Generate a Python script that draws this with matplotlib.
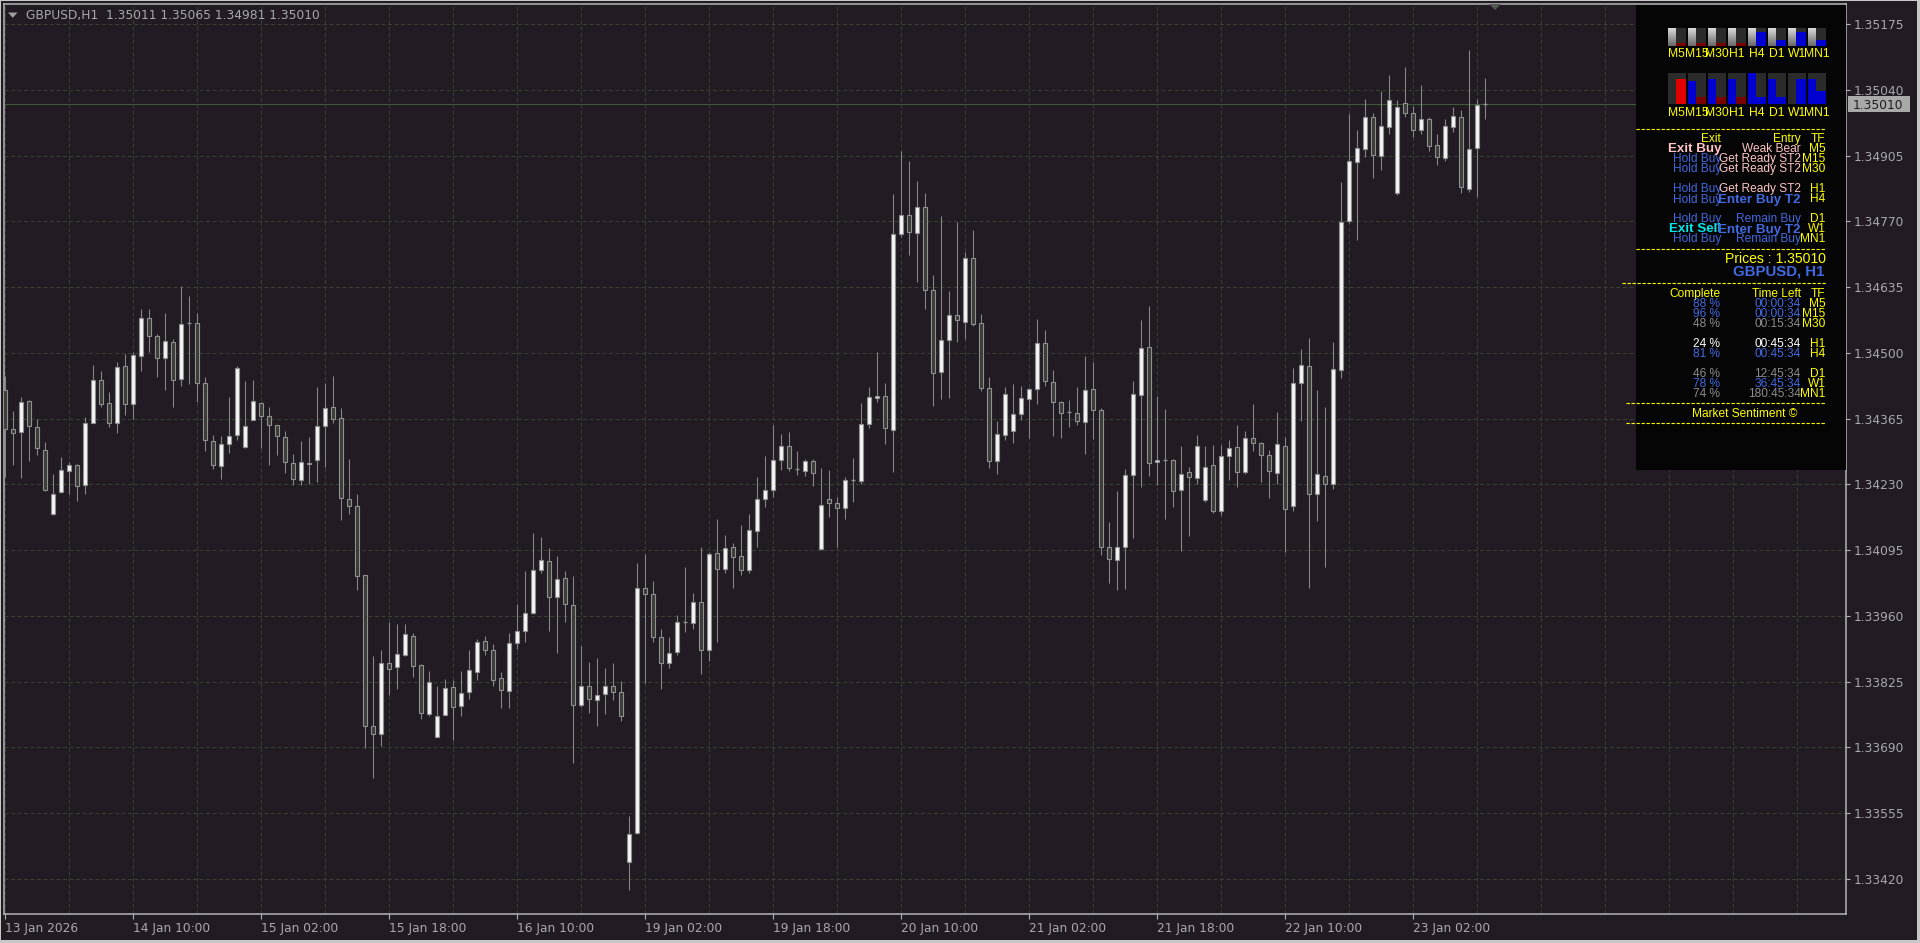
import matplotlib
matplotlib.use("Agg")
import matplotlib.pyplot as plt
from matplotlib.patches import Rectangle, Polygon
import numpy as np

# ---- data -------------------------------------------------------------
symbol = "GBPUSD"
period = "H1"

opens = [
    1.34424, 1.34343, 1.34337, 1.34402, 1.34347, 1.34300, 1.34170, 1.34215, 1.34257, 1.34270,
    1.34229, 1.34357, 1.34445, 1.34398, 1.34357, 1.34473, 1.34396, 1.34494, 1.34571, 1.34534,
    1.34489, 1.34522, 1.34446, 1.34561, 1.34562, 1.34438, 1.34320, 1.34268, 1.34312, 1.34331,
    1.34306, 1.34363, 1.34398, 1.34371, 1.34351, 1.34328, 1.34273, 1.34239, 1.34271, 1.34280,
    1.34349, 1.34389, 1.34367, 1.34200, 1.34185, 1.34044, 1.33735, 1.33718, 1.33863, 1.33855,
    1.33879, 1.33918, 1.33860, 1.33758, 1.33712, 1.33757, 1.33814, 1.33775, 1.33804, 1.33844,
    1.33909, 1.33891, 1.33832, 1.33806, 1.33904, 1.33929, 1.33965, 1.34055, 1.34073, 1.33998,
    1.34037, 1.33982, 1.33778, 1.33817, 1.33788, 1.33799, 1.33817, 1.33803, 1.33455, 1.33514,
    1.34018, 1.34004, 1.33917, 1.33864, 1.33886, 1.33947, 1.33945, 1.33988, 1.33891, 1.34089,
    1.34056, 1.34101, 1.34082, 1.34054, 1.34135, 1.34200, 1.34219, 1.34280, 1.34309, 1.34262,
    1.34258, 1.34277, 1.34098, 1.34201, 1.34192, 1.34181, 1.34238, 1.34237, 1.34354, 1.34407,
    1.34411, 1.34342, 1.34743, 1.34782, 1.34747, 1.34800, 1.34630, 1.34461, 1.34527, 1.34577,
    1.34564, 1.34695, 1.34561, 1.34428, 1.34278, 1.34332, 1.34340, 1.34375, 1.34406, 1.34426,
    1.34520, 1.34441, 1.34400, 1.34378, 1.34377, 1.34359, 1.34426, 1.34383, 1.34101, 1.34074,
    1.34101, 1.34250, 1.34414, 1.34512, 1.34275, 1.34280, 1.34281, 1.34218, 1.34255, 1.34244,
    1.34197, 1.34269, 1.34176, 1.34289, 1.34306, 1.34256, 1.34326, 1.34315, 1.34291, 1.34254,
    1.34309, 1.34185, 1.34439, 1.34474, 1.34210, 1.34248, 1.34231, 1.34465, 1.34770, 1.34892,
    1.34919, 1.34985, 1.34905, 1.34964, 1.34828, 1.35013, 1.34992, 1.34958, 1.34981, 1.34927,
    1.34899, 1.34964, 1.34985, 1.34837, 1.34921, 1.35011,
]
highs = [
    1.34453, 1.34381, 1.34409, 1.34404, 1.34365, 1.34318, 1.34252, 1.34286, 1.34275, 1.34272,
    1.34368, 1.34476, 1.34463, 1.34419, 1.34482, 1.34497, 1.34501, 1.34589, 1.34589, 1.34538,
    1.34582, 1.34528, 1.34638, 1.34616, 1.34582, 1.34451, 1.34331, 1.34329, 1.34409, 1.34472,
    1.34443, 1.34445, 1.34400, 1.34389, 1.34352, 1.34340, 1.34292, 1.34319, 1.34328, 1.34429,
    1.34438, 1.34453, 1.34387, 1.34283, 1.34211, 1.34045, 1.33878, 1.33890, 1.33947, 1.33943,
    1.33944, 1.33924, 1.33861, 1.33846, 1.33816, 1.33831, 1.33829, 1.33846, 1.33890, 1.33912,
    1.33919, 1.33902, 1.33844, 1.33925, 1.33984, 1.34052, 1.34131, 1.34121, 1.34099, 1.34082,
    1.34052, 1.34041, 1.33899, 1.33866, 1.33873, 1.33853, 1.33864, 1.33827, 1.33550, 1.34068,
    1.34087, 1.34031, 1.33933, 1.33917, 1.33962, 1.34060, 1.34008, 1.34101, 1.34091, 1.34158,
    1.34127, 1.34109, 1.34147, 1.34169, 1.34245, 1.34289, 1.34351, 1.34334, 1.34338, 1.34299,
    1.34282, 1.34282, 1.34264, 1.34260, 1.34204, 1.34245, 1.34284, 1.34398, 1.34429, 1.34501,
    1.34439, 1.34826, 1.34915, 1.34893, 1.34853, 1.34829, 1.34660, 1.34780, 1.34627, 1.34768,
    1.34707, 1.34752, 1.34579, 1.34451, 1.34360, 1.34429, 1.34437, 1.34431, 1.34428, 1.34570,
    1.34547, 1.34465, 1.34401, 1.34403, 1.34430, 1.34493, 1.34481, 1.34387, 1.34152, 1.34217,
    1.34261, 1.34442, 1.34568, 1.34596, 1.34411, 1.34385, 1.34282, 1.34308, 1.34266, 1.34331,
    1.34308, 1.34310, 1.34310, 1.34321, 1.34351, 1.34340, 1.34394, 1.34316, 1.34300, 1.34378,
    1.34328, 1.34468, 1.34508, 1.34531, 1.34423, 1.34388, 1.34523, 1.34850, 1.34990, 1.34957,
    1.35022, 1.34992, 1.35038, 1.35070, 1.35018, 1.35086, 1.35007, 1.35049, 1.34985, 1.34950,
    1.34979, 1.35005, 1.34998, 1.35122, 1.35022, 1.35065,
]
lows = [
    1.34246, 1.34270, 1.34243, 1.34277, 1.34290, 1.34216, 1.34168, 1.34213, 1.34210, 1.34196,
    1.34210, 1.34355, 1.34389, 1.34348, 1.34336, 1.34372, 1.34365, 1.34462, 1.34501, 1.34451,
    1.34423, 1.34389, 1.34432, 1.34436, 1.34399, 1.34299, 1.34262, 1.34242, 1.34294, 1.34322,
    1.34304, 1.34362, 1.34305, 1.34270, 1.34290, 1.34253, 1.34229, 1.34228, 1.34231, 1.34234,
    1.34265, 1.34355, 1.34156, 1.34170, 1.34014, 1.33689, 1.33628, 1.33694, 1.33798, 1.33811,
    1.33878, 1.33835, 1.33748, 1.33755, 1.33711, 1.33756, 1.33705, 1.33754, 1.33789, 1.33829,
    1.33880, 1.33816, 1.33770, 1.33772, 1.33892, 1.33906, 1.33963, 1.34048, 1.33930, 1.33883,
    1.33948, 1.33659, 1.33774, 1.33761, 1.33735, 1.33759, 1.33787, 1.33745, 1.33397, 1.33512,
    1.33823, 1.33906, 1.33811, 1.33853, 1.33879, 1.33928, 1.33933, 1.33840, 1.33867, 1.33906,
    1.34048, 1.34018, 1.34045, 1.34049, 1.34101, 1.34184, 1.34205, 1.34260, 1.34257, 1.34250,
    1.34247, 1.34226, 1.34096, 1.34163, 1.34102, 1.34158, 1.34194, 1.34231, 1.34345, 1.34400,
    1.34312, 1.34255, 1.34737, 1.34701, 1.34646, 1.34591, 1.34390, 1.34405, 1.34407, 1.34523,
    1.34528, 1.34555, 1.34422, 1.34263, 1.34252, 1.34321, 1.34314, 1.34362, 1.34325, 1.34394,
    1.34431, 1.34330, 1.34325, 1.34348, 1.34351, 1.34293, 1.34324, 1.34085, 1.34027, 1.34014,
    1.34015, 1.34119, 1.34224, 1.34248, 1.34229, 1.34159, 1.34183, 1.34094, 1.34124, 1.34231,
    1.34193, 1.34171, 1.34167, 1.34240, 1.34224, 1.34251, 1.34299, 1.34235, 1.34202, 1.34230,
    1.34092, 1.34176, 1.34360, 1.34017, 1.34154, 1.34060, 1.34221, 1.34449, 1.34766, 1.34732,
    1.34903, 1.34858, 1.34875, 1.34950, 1.34825, 1.34985, 1.34944, 1.34950, 1.34914, 1.34886,
    1.34894, 1.34953, 1.34828, 1.34831, 1.34820, 1.34981,
]
closes = [
    1.34343, 1.34335, 1.34400, 1.34349, 1.34304, 1.34219, 1.34210, 1.34259, 1.34269, 1.34226,
    1.34356, 1.34444, 1.34395, 1.34357, 1.34470, 1.34395, 1.34495, 1.34571, 1.34534, 1.34489,
    1.34524, 1.34444, 1.34560, 1.34560, 1.34438, 1.34322, 1.34269, 1.34312, 1.34330, 1.34469,
    1.34349, 1.34402, 1.34371, 1.34351, 1.34330, 1.34276, 1.34241, 1.34276, 1.34274, 1.34349,
    1.34387, 1.34364, 1.34202, 1.34186, 1.34041, 1.33734, 1.33718, 1.33863, 1.33852, 1.33881,
    1.33922, 1.33858, 1.33760, 1.33824, 1.33755, 1.33812, 1.33774, 1.33802, 1.33848, 1.33907,
    1.33890, 1.33829, 1.33807, 1.33904, 1.33929, 1.33965, 1.34055, 1.34075, 1.33998, 1.34035,
    1.33984, 1.33777, 1.33816, 1.33790, 1.33798, 1.33816, 1.33804, 1.33754, 1.33512, 1.34018,
    1.34004, 1.33916, 1.33864, 1.33884, 1.33947, 1.33948, 1.33988, 1.33891, 1.34087, 1.34057,
    1.34100, 1.34081, 1.34054, 1.34136, 1.34200, 1.34219, 1.34280, 1.34309, 1.34263, 1.34261,
    1.34278, 1.34253, 1.34188, 1.34192, 1.34182, 1.34239, 1.34238, 1.34354, 1.34409, 1.34411,
    1.34345, 1.34743, 1.34782, 1.34748, 1.34800, 1.34630, 1.34458, 1.34526, 1.34577, 1.34568,
    1.34695, 1.34560, 1.34427, 1.34278, 1.34334, 1.34415, 1.34375, 1.34408, 1.34426, 1.34520,
    1.34443, 1.34399, 1.34377, 1.34378, 1.34361, 1.34424, 1.34383, 1.34101, 1.34077, 1.34101,
    1.34250, 1.34416, 1.34510, 1.34274, 1.34280, 1.34280, 1.34217, 1.34252, 1.34246, 1.34308,
    1.34266, 1.34176, 1.34289, 1.34305, 1.34255, 1.34325, 1.34315, 1.34291, 1.34257, 1.34312,
    1.34179, 1.34439, 1.34475, 1.34210, 1.34251, 1.34230, 1.34466, 1.34768, 1.34893, 1.34920,
    1.34985, 1.34906, 1.34966, 1.35019, 1.35005, 1.34992, 1.34958, 1.34979, 1.34925, 1.34901,
    1.34966, 1.34986, 1.34840, 1.34919, 1.35008, 1.35010,
]

date_labels = ["13 Jan 2026", "14 Jan 10:00", "15 Jan 02:00", "15 Jan 18:00",
               "16 Jan 10:00", "19 Jan 02:00", "19 Jan 18:00", "20 Jan 10:00",
               "21 Jan 02:00", "21 Jan 18:00", "22 Jan 10:00", "23 Jan 02:00"]
date_label_bars = [0, 16, 32, 48, 64, 80, 96, 112, 128, 144, 160, 176]
price_ticks = [1.35175, 1.35040, 1.34905, 1.34770, 1.34635, 1.34500, 1.34365,
               1.34230, 1.34095, 1.33960, 1.33825, 1.33690, 1.33555, 1.33420]

# dashboard panel
tfs = ["M5", "M15", "M30", "H1", "H4", "D1", "W1", "MN1"]
row1_level = [0.15, 0.15, 0.15, 0.15, 0.78, 0.3, 0.78, 0.3]
row1_color = ["dred", "dred", "dred", "dred", "blue", "blue", "blue", "blue"]
row2_left_level = [0.0, 0.73, 0.8, 0.8, 1.0, 0.8, 0.0, 0.8]
row2_right_level = [0.8, 0.21, 0.21, 0.21, 0.21, 0.21, 0.8, 0.43]
row2_right_color = ["red", "dred", "dred", "dred", "blue", "blue", "blue", "blue"]
exit_txt = ["Exit Buy", "Hold Buy", "Hold Buy", "Hold Buy", "Hold Buy", "Hold Buy", "Exit Sell", "Hold Buy"]
entry_txt = ["Weak Bear", "Get Ready ST2", "Get Ready ST2", "Get Ready ST2",
             "Enter Buy T2", "Remain Buy", "Enter Buy T2", "Remain Buy"]
complete = [88, 96, 48, 24, 81, 46, 78, 74]
time_left = ["00:00:34", "00:00:34", "00:15:34", "00:45:34", "00:45:34",
             "12:45:34", "36:45:34", "180:45:34"]
progress_color = ["blue", "blue", "gray", "white", "blue", "gray", "blue", "gray"]

# ---- style ------------------------------------------------------------
W, H = 1920, 943
BG = "#221b24"
GRID = "#36422f"
FRAME = "#b4b4b4"
AXTXT = "#a8a8ae"
WICK = "#858585"
EDGE = "#8f8f8f"
BULL = "#f4f4f4"
BEAR = "#3b3c37"
YEL = "#ffff00"
C = {"blue": "#4169e1", "gray": "#8c8c8c", "white": "#ffffff",
     "pink": "#ffc4c4", "cyan": "#00e8ee"}
BAR = {"blue": "#0000d0", "red": "#e00000", "dred": "#7a0000"}
ARIAL = ["Liberation Sans", "DejaVu Sans"]

fig = plt.figure(figsize=(19.2, 9.43), dpi=100)
fig.patch.set_facecolor(BG)

# main chart axes (frame 4..1846 px wide, 4..914 px tall)
ax = fig.add_axes([4 / W, 1 - 914 / H, 1842 / W, 910 / H])
ax.set_facecolor(BG)
px_per_price = 65.77 / 0.00135
ax.set_xlim(-0.125, 230.125)
ax.set_ylim(1.35175 - 890 / px_per_price, 1.35175 + 20 / px_per_price)

o = np.array(opens)
h = np.array(highs)
l = np.array(lows)
c = np.array(closes)
x = np.arange(len(o))
body_w = 0.56

ax.vlines(x, l, h, color=WICK, lw=0.8, zorder=2)
doji = np.abs(c - o) < 1.5e-5
bull = (c > o) & ~doji
bear = (c < o) & ~doji
ax.bar(x[bull], (c - o)[bull], bottom=o[bull], width=body_w, color=BULL,
       edgecolor=EDGE, linewidth=0.8, zorder=3)
ax.bar(x[bear], (o - c)[bear], bottom=c[bear], width=body_w, color=BEAR,
       edgecolor=EDGE, linewidth=0.8, zorder=3)
ax.hlines(o[doji], x[doji] - body_w / 2, x[doji] + body_w / 2, color=EDGE, lw=1.0, zorder=3)

ax.axhline(c[-1], color="#3f5b35", lw=0.8, zorder=1.5)

ax.yaxis.set_ticks_position("right")
ax.set_yticks(price_ticks)
ax.set_yticklabels([f"{p:.5f}" for p in price_ticks])
ax.set_xticks(date_label_bars)
ax.set_xticklabels(date_labels, ha="left")
ax.set_xticks(np.arange(0, 231, 8), minor=True)
ax.grid(True, which="both", color=GRID, lw=0.72, linestyle=(0, (4, 2.5)), zorder=0)
ax.tick_params(axis="x", which="minor", length=0)
ax.tick_params(axis="x", which="major", length=3.5, width=0.8, color=FRAME,
               labelcolor=AXTXT, labelsize=8.8, pad=2.5)
ax.tick_params(axis="y", length=3, width=0.8, color=FRAME,
               labelcolor=AXTXT, labelsize=8.8, pad=2.5)
for lab in ax.get_xticklabels() + ax.get_yticklabels():
    lab.set_family("DejaVu Sans")
for sp in ax.spines.values():
    sp.set_color(FRAME)
    sp.set_linewidth(1.1)

# ---- overlay in pixel coordinates ------------------------------------
ov = fig.add_axes([0, 0, 1, 1])
ov.patch.set_alpha(0)
ov.axis("off")


def py(price):
    return H - ax.transData.transform((0, price))[1]


# window border
ov.add_patch(Rectangle((0, 0), W, 1, fc="#c8c8c8", ec="none"))
ov.add_patch(Rectangle((0, 0), 1, H, fc="#c8c8c8", ec="none"))
ov.add_patch(Rectangle((1917, 0), 3, H, fc="#c8c8c8", ec="none"))
ov.add_patch(Rectangle((0, 940), W, 3, fc="#c8c8c8", ec="none"))

# title
ov.add_patch(Polygon([(8, 12.5), (17.5, 12.5), (12.75, 17.8)], closed=True, fc="#a0a0a0", ec="none"))
ov.text(26, 19.5, f"{symbol},{period}  {opens[-1]:.5f} {highs[-1]:.5f} {lows[-1]:.5f} {closes[-1]:.5f}",
        color=AXTXT, fontsize=8.8, family="DejaVu Sans", va="baseline", ha="left")
ov.add_patch(Polygon([(1489, 4), (1501, 4), (1495, 10)], closed=True, fc="#555555", ec="none"))

# current price tag
yp = py(c[-1])
ov.add_patch(Rectangle((1848, yp - 8), 62, 16, fc="#a9a9a9", ec="none"))
ov.text(1853, yp, f"{c[-1]:.5f}", color="#1e1e1e", fontsize=8.8, family="DejaVu Sans",
        va="center_baseline", ha="left")

# dashboard panel
ov.add_patch(Rectangle((1636, 5), 210, 465, fc="#050505", ec="none"))
grad = np.linspace(0.85, 0.42, 18).reshape(-1, 1)
for k, tf in enumerate(tfs):
    x0 = 1667.7 + 20 * k
    # row 1
    ov.imshow(grad, extent=(x0, x0 + 8, 45.7, 27.7), cmap="gray", vmin=0, vmax=1,
              aspect="auto", interpolation="bilinear", zorder=2)
    ov.add_patch(Rectangle((x0 + 8, 27.7), 10.3, 18, fc="#2b2b2b", ec="none", zorder=2))
    hh = 18 * row1_level[k]
    ov.add_patch(Rectangle((x0 + 8, 45.7 - hh), 10.3, hh, fc=BAR[row1_color[k]], ec="none", zorder=3))
    ov.text(x0 + 9.2, 56.9, tf, color=YEL, fontsize=8.7, family=ARIAL, ha="center", va="baseline")
    # row 2
    ov.add_patch(Rectangle((x0, 72.7), 18.3, 31.3, fc="#2b2b2b", ec="none", zorder=2))
    hl = 31.3 * row2_left_level[k]
    if hl > 0:
        ov.add_patch(Rectangle((x0 + 0.7, 104 - hl), 7.6, hl, fc=BAR["blue"], ec="none", zorder=3))
    hr = 31.3 * row2_right_level[k]
    ov.add_patch(Rectangle((x0 + 8.3, 104 - hr), 10, hr, fc=BAR[row2_right_color[k]], ec="none", zorder=3))
    ov.text(x0 + 9.2, 115.9, tf, color=YEL, fontsize=8.7, family=ARIAL, ha="center", va="baseline")

dash = (0, (3, 1.5))
for yy, xa in [(129.0, 1636), (249.3, 1636), (283.3, 1622), (403.3, 1626), (422.7, 1626)]:
    ov.plot([xa, 1826], [yy, yy], color=YEL, lw=0.8, linestyle=dash, zorder=4)

X_EXIT, X_ENTRY, X_TF = 1721, 1800.7, 1825.5
rows1 = [151.9, 161.9, 171.9, 191.9, 202.5, 221.9, 232.5, 241.9]
rows2 = [306.9, 316.9, 326.9, 346.9, 356.9, 376.9, 386.9, 396.9]
fs = 8.6


def ptxt(xx, yy, s, color, size=fs, bold=False):
    ov.text(xx, yy, s, color=color, fontsize=size, family=ARIAL, ha="right", va="baseline",
            fontweight="bold" if bold else "normal", zorder=5)


ptxt(X_EXIT, 141.9, "Exit", YEL)
ptxt(X_ENTRY, 141.9, "Entry", YEL)
ptxt(X_TF, 141.9, "TF", YEL)
for k, tf in enumerate(tfs):
    ex = exit_txt[k]
    if ex == "Exit Buy":
        ptxt(X_EXIT, rows1[k], ex, C["pink"], 9.6, True)
    elif ex == "Exit Sell":
        ptxt(X_EXIT, rows1[k], ex, C["cyan"], 9.6, True)
    else:
        ptxt(X_EXIT, rows1[k], ex, C["blue"])
    en = entry_txt[k]
    if en == "Enter Buy T2":
        ptxt(X_ENTRY, rows1[k], en, C["blue"], 9.6, True)
    elif en == "Remain Buy":
        ptxt(X_ENTRY, rows1[k], en, C["blue"])
    else:
        ptxt(X_ENTRY, rows1[k], en, C["pink"])
    ptxt(X_TF, rows1[k], tf, YEL)

ptxt(X_TF, 263.0, f"Prices : {c[-1]:.5f}", YEL, 10.1)
ptxt(1824.5, 275.0, f"{symbol}, {period}", C["blue"], 10.8, True)

ptxt(1720, 296.9, "Complete", YEL)
ptxt(X_ENTRY, 296.9, "Time Left", YEL)
ptxt(X_TF, 296.9, "TF", YEL)
for k, tf in enumerate(tfs):
    col = C[progress_color[k]]
    ptxt(1720, rows2[k], f"{complete[k]} %", col)
    ptxt(X_ENTRY, rows2[k], time_left[k], col)
    ptxt(X_TF, rows2[k], tf, YEL)

ov.text(1745, 417.0, "Market Sentiment \u00a9", color=YEL, fontsize=8.6, family=ARIAL,
        ha="center", va="baseline", zorder=5)

ov.set_xlim(0, W)
ov.set_ylim(H, 0)

fig.savefig("out.png", dpi=100, facecolor=BG)
